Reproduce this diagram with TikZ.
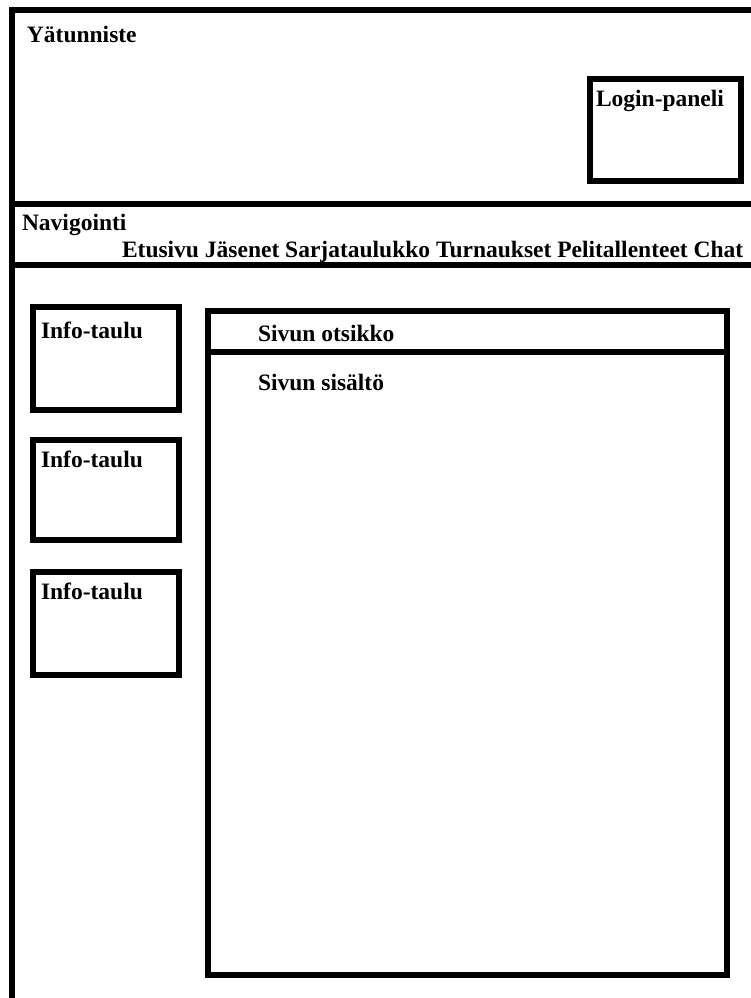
\documentclass[tikz,border=0pt]{standalone}
\usepackage{fontspec}
\setmainfont{Liberation Serif}
\begin{document}
\begin{tikzpicture}[x=1pt,y=-1pt,
  frame/.style={line width=5.5pt, line join=miter},
  box/.style={draw, rectangle, line width=5.5pt, inner sep=0pt, outer sep=0pt},
  lbl/.style={font=\bfseries\fontsize{23.5}{23.5}\selectfont, anchor=base west, inner sep=0pt, outer sep=0pt}]
\useasboundingbox (0,0) rectangle (750,998);
% outer frame
\coordinate (bl) at (12,1002);
\coordinate (tl) at (12,10);
\coordinate (tr) at (754,10);
\coordinate (s1l) at (12,204);
\coordinate (s1r) at (754,204);
\coordinate (s2l) at (12,265);
\coordinate (s2r) at (754,265);
\draw[frame] (bl) -- (tl) -- (tr);
\draw[frame] (s1l) -- (s1r);
\draw[frame] (s2l) -- (s2r);
% boxes
\node[box, minimum width=151pt, minimum height=102pt] (login) at (665.5,130) {};
\node[box, minimum width=146pt, minimum height=103pt] (info1) at (106,358.5) {};
\node[box, minimum width=146pt, minimum height=100pt] (info2) at (106,490) {};
\node[box, minimum width=146pt, minimum height=103pt] (info3) at (106,623.5) {};
\node[box, minimum width=519pt, minimum height=664pt] (main) at (467.5,643) {};
\coordinate (sep) at (0,352);
\draw[frame] (main.west |- sep) -- (main.east |- sep);
% labels
\node[lbl] (t1) at (27,43) {Yätunniste};
\node[lbl] (t2) at (596,106) {Login-paneli};
\node[lbl] (t3) at (22,230) {Navigointi};
\node[lbl] (t4) at (122,257) {Etusivu Jäsenet Sarjataulukko Turnaukset Pelitallenteet Chat};
\node[lbl] (t5) at (41,338) {Info-taulu};
\node[lbl] (t6) at (41,467) {Info-taulu};
\node[lbl] (t7) at (41,599) {Info-taulu};
\node[lbl] (t8) at (258,341) {Sivun otsikko};
\node[lbl] (t9) at (258,390) {Sivun sisältö};
\end{tikzpicture}
\end{document}
